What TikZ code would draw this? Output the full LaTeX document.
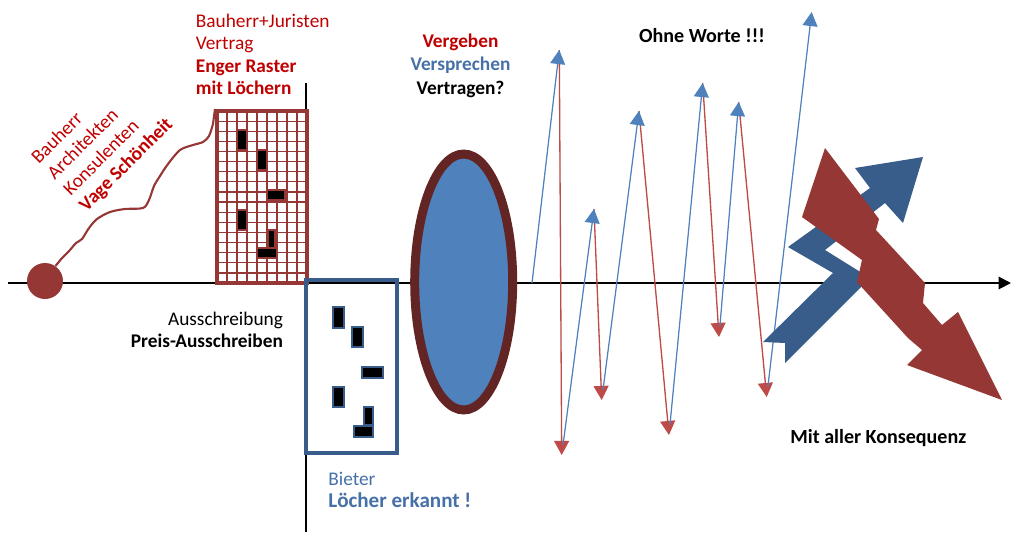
\documentclass[tikz,border=0pt]{standalone}
\usepackage{fontspec}
\setmainfont{Carlito}
\usetikzlibrary{arrows.meta, shapes.geometric}
\definecolor{cdred}{HTML}{953735}
\definecolor{ctred}{HTML}{C00000}
\definecolor{clred}{HTML}{BE4B48}
\definecolor{cbord}{HTML}{632523}
\definecolor{cblue}{HTML}{4F81BD}
\definecolor{cdblue}{HTML}{385D8A}
\definecolor{ctblue}{HTML}{4670A8}
\tikzset{
  every picture/.style={font=\fontsize{11}{12.8}\selectfont},
  txt/.style={inner sep=0pt, align=#1},
  txt/.default=left,
  big/.style={font=\fontsize{11.4}{14}\selectfont\bfseries},
  axisline/.style={-{Triangle[length=7pt, width=7pt]}, line width=1.1pt},
  rasterline/.style={draw=cdred, line width=0.7pt},
  rasterbox/.style={draw=cdred, line width=2.3pt, minimum width=1.8cm, minimum height=3.44cm, inner sep=0pt},
  hole/.style={fill=black, draw=#1, line width=1.3pt},
  hole/.default=cdred,
  bieterbox/.style={draw=cdblue, line width=2.3pt, minimum width=1.82cm, minimum height=3.46cm, inner sep=0pt},
  linse/.style={ellipse, draw=cbord, fill=cblue, line width=5.1pt, minimum width=1.96cm, minimum height=5.12cm, inner sep=0pt},
  uparrow/.style={-{Triangle[length=8pt, width=8.5pt]}, draw=cblue, fill=cblue, line width=0.7pt},
  downarrow/.style={-{Triangle[length=8pt, width=8.5pt]}, draw=clred, fill=clred, line width=0.75pt},
}

\begin{document}
\begin{tikzpicture}[x=0.02cm, y=-0.02cm]
  \useasboundingbox (0,0) rectangle (1012,532);
  \coordinate (axL) at (8,283);
  \coordinate (axR) at (1011,283);
  \coordinate (vtop) at (306,83);
  \coordinate (vbot) at (306,532);
  \draw[axisline] (axL) -- (axR);
  \draw[line width=0.85pt] (vtop) -- (vbot);

  \node[circle, fill=cdred, minimum size=0.72cm, inner sep=0pt] (start) at (45,281) {};
  \foreach \i in {1,...,8}
    \draw[rasterline] (217+10*\i,111) -- (217+10*\i,283);
  \foreach \j in {1,...,16}
    \draw[rasterline] (217,111+172/17*\j) -- (307,111+172/17*\j);
  \node[rasterbox] (raster) at (262,197) {};
  \draw[cdred, line width=1.2pt] (start.55) -- plot[smooth, tension=0.5] coordinates {(62,258) (70,250) (76,243) (82,239) (89,228) (97,219) (110,212) (125,209) (143,208) (149,200) (154,186) (160,176) (168,164) (180,150) (193,145) (203,142) (209,136) (213,124)} -- (raster.north west);
  \draw[hole] (237,130) rectangle (247,150);
  \draw[hole] (257,150) rectangle (267,170);
  \draw[hole] (267,190) rectangle (285,200);
  \draw[hole] (237,210) rectangle (247,230);
  \draw[hole] (268,230) rectangle (275,250);
  \draw[hole] (257,248) rectangle (277,258);

  \node[bieterbox] (bieter) at (351.5,366.5) {};
  \draw[hole=cdblue] (333,307) rectangle (344,328);
  \draw[hole=cdblue] (352,327) rectangle (363,347);
  \draw[hole=cdblue] (362,367) rectangle (383,378);
  \draw[hole=cdblue] (333,387) rectangle (344,407);
  \draw[hole=cdblue] (364,407) rectangle (373,425);
  \draw[hole=cdblue] (354,426) rectangle (373,437);

  \node[linse] (linse) at (463.7,282) {};

  \coordinate (z0) at (532,283);
  \coordinate (z1) at (559.3,50);
  \coordinate (z2) at (561.7,455);
  \coordinate (z3) at (594,209);
  \coordinate (z4) at (601.7,400);
  \coordinate (z5) at (639,111);
  \coordinate (z6) at (669,435);
  \coordinate (z7) at (702.7,83);
  \coordinate (z8) at (719,337);
  \coordinate (z9) at (738.7,102);
  \coordinate (z10) at (766.7,397);
  \coordinate (z11) at (811.7,12);
  \draw[downarrow] (z1) -- (z2);
  \draw[downarrow] (z3) -- (z4);
  \draw[downarrow] (z5) -- (z6);
  \draw[downarrow] (z7) -- (z8);
  \draw[downarrow] (z9) -- (z10);
  \draw[uparrow] (z0) -- (z1);
  \draw[uparrow, shorten <=6pt] (z2) -- (z3);
  \draw[uparrow, shorten <=6pt] (z4) -- (z5);
  \draw[uparrow, shorten <=6pt] (z6) -- (z7);
  \draw[uparrow, shorten <=6pt] (z8) -- (z9);
  \draw[uparrow, shorten <=6pt] (z10) -- (z11);

  \fill[cdblue] (763,342) -- (833,273) -- (788,247) -- (870,188) -- (855,168) -- (923,157) -- (903,223) -- (885,203) -- (825,250) -- (870,278) -- (785,363) -- (785,343) -- cycle;
  \fill[cdred] (825,148) -- (879,219) -- (876,230) -- (925,283) -- (923,303) -- (942,325) -- (958,312) -- (1002,400) -- (907,365) -- (922,350) -- (908,338) -- (857,282) -- (862,260) -- (802,217) -- cycle;

  \node[txt, text=ctred, anchor=north west] (vertrag) at (195.5,13.4) {Bauherr+Juristen\\Vertrag\\\textbf{Enger Raster}\\\textbf{mit Löchern}};
  \node[txt, text=ctred, anchor=north west, rotate=45] (wunsch) at (29,155) {Bauherr\\Architekten\\Konsulenten\\\textbf{Vage Schönheit}};
  \node[txt=right, anchor=north east] (ausschr) at (283.3,311.4) {Ausschreibung\\\textbf{Preis-Ausschreiben}};
  \node[txt, text=ctblue, anchor=north west] (erkannt) at (328,471.4) {Bieter\\{\fontsize{12}{12.8}\selectfont\bfseries Löcher erkannt !}};
  \node[txt=center, anchor=north, font=\fontsize{11}{13.2}\selectfont\bfseries] (vergeben) at (460.5,33.7) {\textcolor{ctred}{Vergeben}\\\textcolor{ctblue}{Versprechen}\\Vertragen?};
  \node[txt, anchor=base, big] (ohne) at (702,42.3) {Ohne Worte !!!};
  \node[txt, anchor=base west, big] (konsequenz) at (790,443.3) {Mit aller Konsequenz};
\end{tikzpicture}
\end{document}
